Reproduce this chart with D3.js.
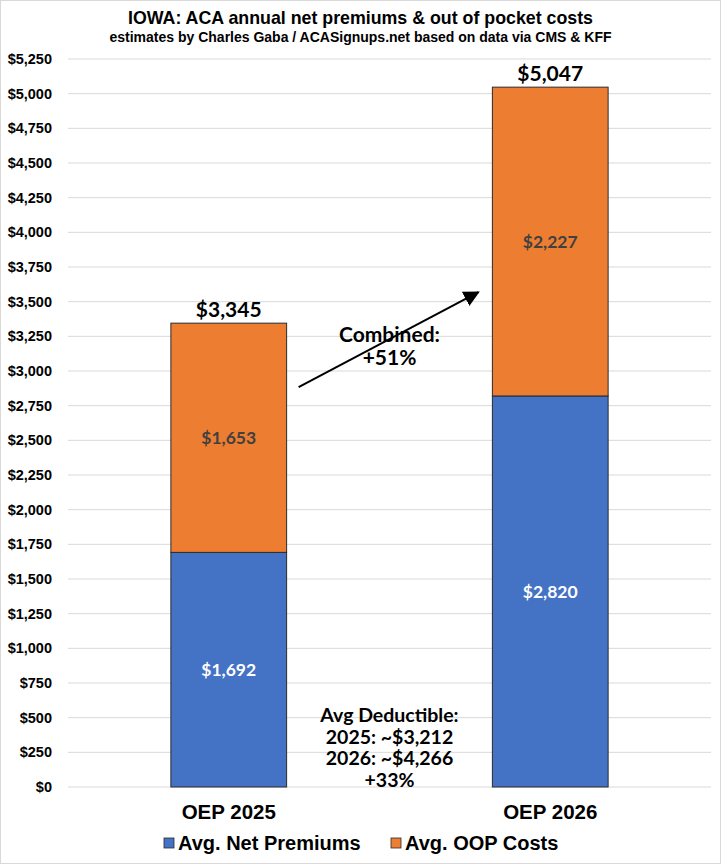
<!DOCTYPE html>
<html>
<head>
<meta charset="utf-8">
<script src="https://cdn.jsdelivr.net/npm/d3@7"></script>
<style>
  body { margin: 0; background: #fff; }
  text { font-family: "Liberation Sans", Arial, sans-serif; }
  .num { font-family: Lato, "Open Sans", sans-serif; }
</style>
</head>
<body>
<svg id="chart" width="721" height="864"></svg>
<script>
// data
const categories = ["OEP 2025", "OEP 2026"];
const netPremiums = [1692, 2820];
const oopCosts = [1653, 2227];
const totals = [3345, 5047];
const yTicks = d3.range(0, 5251, 250);
const seriesNames = ["Avg. Net Premiums", "Avg. OOP Costs"];
const seriesColors = ["#4472C4", "#ED7D31"];
const deductibleNote = ["Avg Deductible:", "2025: ~$3,212", "2026: ~$4,266", "+33%"];
const combinedNote = ["Combined:", "+51%"];

const svg = d3.select("#chart");
const W = 721, H = 864;
const m = {top: 59, right: 10, bottom: 77, left: 68};

svg.append("rect")
    .attr("x", 0.5).attr("y", 0.5)
    .attr("width", W - 1).attr("height", H - 1)
    .attr("fill", "#fff").attr("stroke", "#d9d9d9");

const x = d3.scaleBand()
    .domain(categories)
    .range([m.left, W - m.right])
    .paddingInner(0.64)
    .paddingOuter(0.32);

const y = d3.scaleLinear()
    .domain([0, 5250])
    .range([H - m.bottom, m.top]);

// gridlines
svg.append("g")
    .selectAll("line")
    .data(yTicks)
    .join("line")
    .attr("x1", m.left).attr("x2", W - m.right)
    .attr("y1", d => y(d)).attr("y2", d => y(d))
    .attr("stroke", "#d9d9d9").attr("stroke-width", 1);

// y axis labels
const fmt = d3.format("$,");
svg.append("g")
    .attr("transform", `translate(${m.left - 13},0)`)
    .call(d3.axisLeft(y).tickValues(yTicks).tickFormat(fmt).tickSize(0))
    .call(g => g.select(".domain").remove())
    .selectAll("text")
    .attr("font-family", "Liberation Sans, Arial, sans-serif")
    .attr("font-weight", "bold")
    .attr("font-size", 14.5)
    .attr("fill", "#000");

// stacked bars
const rows = categories.map((c, i) => ({cat: c, net: netPremiums[i], oop: oopCosts[i]}));
const stack = d3.stack().keys(["net", "oop"])(rows);

svg.append("g")
    .selectAll("g")
    .data(stack)
    .join("g")
    .attr("fill", (d, i) => seriesColors[i])
    .selectAll("rect")
    .data(d => d)
    .join("rect")
    .attr("x", d => x(d.data.cat))
    .attr("width", x.bandwidth())
    .attr("y", d => y(d[1]))
    .attr("height", d => y(d[0]) - y(d[1]))
    .attr("stroke", "#2b2b2b")
    .attr("stroke-width", 1);

// segment labels
stack.forEach((s, si) => {
    svg.append("g")
        .selectAll("text")
        .data(s)
        .join("text")
        .attr("class", "num")
        .attr("x", d => x(d.data.cat) + x.bandwidth() / 2)
        .attr("y", d => y((d[0] + d[1]) / 2))
        .attr("dy", "0.35em")
        .attr("text-anchor", "middle")
        .attr("font-weight", "bold")
        .attr("font-size", 17.5)
        .attr("fill", si === 0 ? "#fff" : "#404040")
        .text(d => fmt(d[1] - d[0]));
});

// totals
svg.append("g")
    .selectAll("text")
    .data(totals)
    .join("text")
    .attr("class", "num")
    .attr("x", (d, i) => x(categories[i]) + x.bandwidth() / 2)
    .attr("y", d => y(d) - 6)
    .attr("text-anchor", "middle")
    .attr("font-weight", "bold")
    .attr("font-size", 21)
    .attr("fill", "#000")
    .text(d => fmt(d));

// x labels
svg.append("g")
    .selectAll("text")
    .data(categories)
    .join("text")
    .attr("x", d => x(d) + x.bandwidth() / 2)
    .attr("y", H - m.bottom + 32)
    .attr("text-anchor", "middle")
    .attr("font-weight", "bold")
    .attr("font-size", 20.5)
    .text(d => d);

// arrow
svg.append("defs").append("marker")
    .attr("id", "arrowhead")
    .attr("viewBox", "0 0 10 10")
    .attr("refX", 9).attr("refY", 5)
    .attr("markerWidth", 8).attr("markerHeight", 8)
    .attr("orient", "auto")
    .append("path")
    .attr("d", "M0,0 L10,5 L0,10 z")
    .attr("fill", "#000");

const x0 = x(categories[0]) + x.bandwidth(), x1 = x(categories[1]);
const midX = (x0 + x1) / 2;
svg.append("line")
    .attr("x1", x0 + 12).attr("y1", y(totals[0]) + 64)
    .attr("x2", x1 - 14).attr("y2", y(totals[0]) - 31)
    .attr("stroke", "#000").attr("stroke-width", 2)
    .attr("marker-end", "url(#arrowhead)");

svg.append("g")
    .selectAll("text")
    .data(combinedNote)
    .join("text")
    .attr("class", "num")
    .attr("x", midX)
    .attr("y", (d, i) => y(totals[0]) + 19 + i * 23)
    .attr("text-anchor", "middle")
    .attr("font-weight", "bold")
    .attr("font-size", 21)
    .attr("fill", "#000")
    .text(d => d);

// deductible note
svg.append("g")
    .selectAll("text")
    .data(deductibleNote)
    .join("text")
    .attr("class", "num")
    .attr("x", midX)
    .attr("y", (d, i) => 722 + i * 21.7)
    .attr("text-anchor", "middle")
    .attr("font-weight", "bold")
    .attr("font-size", 19.5)
    .attr("fill", "#000")
    .text(d => d);

// title
svg.append("text")
    .attr("x", W / 2).attr("y", 24)
    .attr("text-anchor", "middle")
    .attr("font-weight", "bold")
    .attr("font-size", 17.8)
    .text("IOWA: ACA annual net premiums & out of pocket costs");
svg.append("text")
    .attr("x", W / 2).attr("y", 42)
    .attr("text-anchor", "middle")
    .attr("font-weight", "bold")
    .attr("font-size", 14)
    .text("estimates by Charles Gaba / ACASignups.net based on data via CMS & KFF");

// legend
const legend = svg.append("g").attr("transform", `translate(0,${H - 21})`);
const legX = [164, 391];
seriesNames.forEach((name, i) => {
    legend.append("rect")
        .attr("x", legX[i]).attr("y", -5)
        .attr("width", 10).attr("height", 10)
        .attr("fill", seriesColors[i])
        .attr("stroke", "#2b2b2b").attr("stroke-width", 0.8);
    legend.append("text")
        .attr("x", legX[i] + 14).attr("y", 0)
        .attr("dy", "0.35em")
        .attr("font-weight", "bold")
        .attr("font-size", 20)
        .text(name);
});
</script>
</body>
</html>
